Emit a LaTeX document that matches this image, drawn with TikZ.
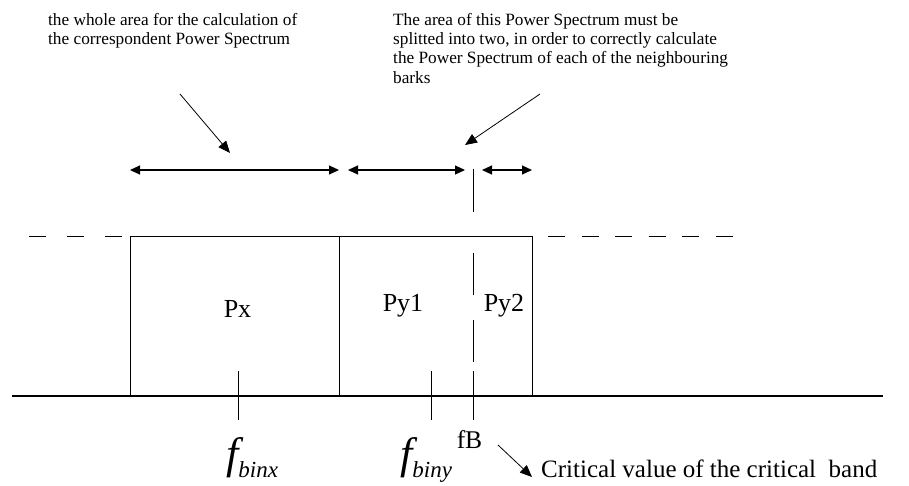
\documentclass[tikz,border=0pt]{standalone}
\usepackage{fontspec}
\setmainfont{Liberation Serif}
\usetikzlibrary{arrows.meta}

\begin{document}
\begin{tikzpicture}[x=1pt, y=-1pt,
    note/.style={anchor=north west, align=left, inner sep=0pt, font=\fontsize{17.25}{19.3}\selectfont},
    bandlabel/.style={anchor=base, inner sep=0pt, font=\fontsize{26}{26}\selectfont},
    freqlabel/.style={anchor=base west, inner sep=0pt, font=\fontsize{44}{44}\selectfont\itshape},
    spanarrow/.style={{Triangle[length=10pt,width=9pt]}-{Triangle[length=10pt,width=9pt]}, line width=1.1pt},
    pointer/.style={-{Triangle[length=12pt,width=10pt]}, line width=0.8pt},
    wall/.style={line width=1pt},
    tick/.style={line width=0.9pt}]
    \useasboundingbox (0,0) rectangle (909,485);

    \node[note] (wholenote) at (48,13) {the whole area for the calculation of\\the correspondent Power Spectrum};
    \node[note] (splitnote) at (393,13) {The area of this Power Spectrum must be\\splitted into two, in order to correctly calculate\\the Power Spectrum of each of the neighbouring\\barks};

    \coordinate (p1) at (180,94);
    \coordinate (p1tip) at (230,153);
    \coordinate (p2) at (540,94);
    \coordinate (p2tip) at (465,145);
    \draw[pointer] (p1) to (p1tip);
    \draw[pointer] (p2) to (p2tip);

    \coordinate (xl) at (130,170);
    \coordinate (xr) at (339,170);
    \coordinate (y1l) at (348,170);
    \coordinate (y1r) at (465,170);
    \coordinate (y2l) at (482,170);
    \coordinate (y2r) at (532,170);
    \draw[spanarrow] (xl) to (xr);
    \draw[spanarrow] (y1l) to (y1r);
    \draw[spanarrow] (y2l) to (y2r);

    \coordinate (axisl) at (12,396);
    \coordinate (axisr) at (883,396);
    \draw[line width=1.4pt] (axisl) to (axisr);

    \coordinate (bl) at (130,396);
    \coordinate (tl) at (130,236);
    \coordinate (tm) at (339,236);
    \coordinate (bm) at (339,396);
    \coordinate (tr) at (532,236);
    \coordinate (br) at (532,396);
    \draw[wall] (bl) -- (tl) -- (tr) -- (br);
    \draw[wall] (tm) -- (bm);

    \coordinate (dl1) at (29,236);
    \coordinate (dl2) at (122,236);
    \coordinate (dr1) at (548,236);
    \coordinate (dr2) at (733,236);
    \draw[wall, dash pattern=on 17pt off 21pt] (dl1) to (dl2);
    \draw[wall, dash pattern=on 17pt off 16.5pt] (dr1) to (dr2);

    \coordinate (fbtop) at (473,169);
    \coordinate (fbbot) at (473,420);
    \draw[tick, dash pattern=on 43pt off 41pt on 42pt off 25pt on 42pt off 9pt on 49pt] (fbtop) to (fbbot);

    \coordinate (tx1) at (238,371);
    \coordinate (tx2) at (238,420);
    \coordinate (ty1) at (431,371);
    \coordinate (ty2) at (431,420);
    \draw[tick] (tx1) to (tx2);
    \draw[tick] (ty1) to (ty2);

    \node[bandlabel] (px) at (237.5,317) {Px};
    \node[bandlabel] (py1) at (403,311) {Py1};
    \node[bandlabel] (py2) at (504,311) {Py2};

    \node[freqlabel] (fbinx) at (226,468) {f\raisebox{-9pt}{\fontsize{23}{23}\selectfont binx}};
    \node[freqlabel] (fbiny) at (400,468) {f\raisebox{-9pt}{\fontsize{23}{23}\selectfont biny}};
    \node[anchor=base, inner sep=0pt, font=\fontsize{25.5}{25.5}\selectfont] (fb) at (469.5,448) {fB};

    \coordinate (crit) at (498,445);
    \coordinate (crittip) at (532,477);
    \draw[pointer] (crit) to (crittip);
    \node[anchor=base west, inner sep=0pt, font=\fontsize{25}{25}\selectfont] (critnote) at (541,477) {Critical value of the critical\ \ band};
\end{tikzpicture}
\end{document}
